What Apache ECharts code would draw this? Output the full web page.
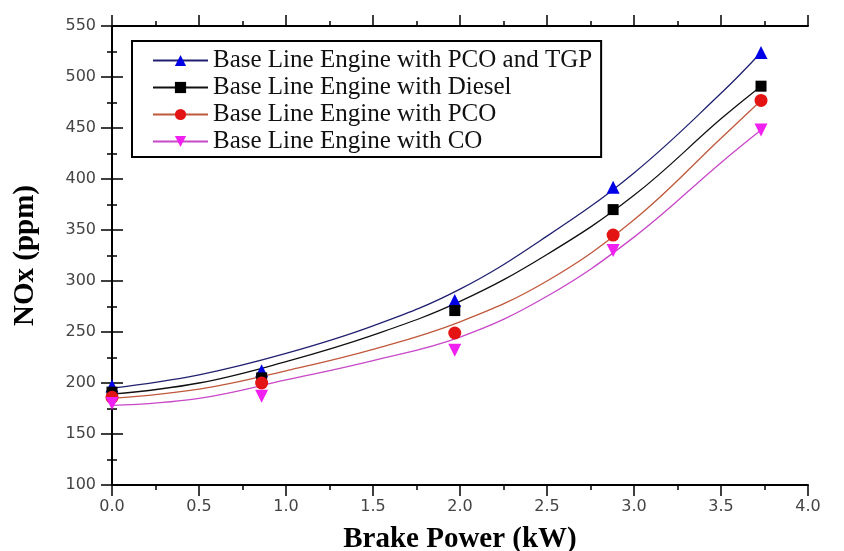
<!DOCTYPE html>
<html>
<head>
<meta charset="utf-8">
<script src="https://cdn.jsdelivr.net/npm/echarts@6/dist/echarts.min.js"></script>
<style>
  html, body { margin: 0; padding: 0; background: #fff; }
  #main { width: 844px; height: 551px; }
</style>
</head>
<body>
<div id="main"></div>
<script>
// measured points
var names = [
    'Base Line Engine with PCO and TGP',
    'Base Line Engine with Diesel',
    'Base Line Engine with PCO',
    'Base Line Engine with CO'
];
var powerPts = [0, 0.86, 1.97, 2.88, 3.73];
var noxTGP = [197, 212, 281, 392, 524];
var noxDiesel = [191, 205, 271, 370, 491];
var noxPCO = [186, 200, 249, 345, 477];
var noxCO = [180, 187, 232, 330, 448];

// fitted curves
var powerFit = [0, 0.5, 1.0, 1.5, 2.0, 2.5, 3.0, 3.5, 3.73];
var fitTGP = [195, 208, 229, 256, 292, 344, 406, 484, 524];
var fitDiesel = [189, 200, 221, 247, 280, 326, 384, 459, 491];
var fitPCO = [185, 194, 212, 233, 260, 300, 360, 440, 477];
var fitCO = [178, 185, 203, 222, 245, 285, 343, 416, 448];

var markColors = ['#0000e6', '#000000', '#e41414', '#f020f0'];
var lineColors = ['#202070', '#111111', '#c0583c', '#c848c8'];
var symbols = ['triangle', 'rect', 'circle', 'triangle'];
var rotates = [0, 0, 0, 180];

function pairs(xs, ys) {
    return xs.map(function (x, i) { return [x, ys[i]]; });
}

var pts = [noxTGP, noxDiesel, noxPCO, noxCO];
var fits = [fitTGP, fitDiesel, fitPCO, fitCO];

var series = [];
for (var i = 0; i < 4; i++) {
    series.push({
        name: names[i],
        type: 'line',
        data: pairs(powerFit, fits[i]),
        smooth: 0.4,
        showSymbol: false,
        symbol: symbols[i],
        symbolRotate: rotates[i],
        symbolSize: 13,
        lineStyle: { color: lineColors[i], width: 1.3 },
        itemStyle: { color: markColors[i] },
        silent: true,
        z: 2
    });
}
for (var j = 0; j < 4; j++) {
    series.push({
        name: names[j],
        type: 'scatter',
        data: pairs(powerPts, pts[j]),
        symbol: symbols[j],
        symbolRotate: rotates[j],
        symbolSize: j === 1 ? 11 : 13,
        itemStyle: { color: markColors[j], opacity: 1 },
        z: 3
    });
}

var axisCommon = {
    axisLine: { show: true, lineStyle: { color: '#000', width: 2 } },
    axisTick: { show: true, inside: false, length: 11, lineStyle: { color: '#000', width: 1.5 } },
    minorTick: { show: true, splitNumber: 2, length: 5, lineStyle: { color: '#000', width: 1.5 } },
    splitLine: { show: false }
};

var tickFont = { color: '#444', fontSize: 16, fontFamily: 'DejaVu Sans' };
var nameFont = { color: '#000', fontSize: 29, fontWeight: 'bold', fontFamily: 'Liberation Serif' };

var option = {
    backgroundColor: '#fff',
    animation: false,
    grid: { left: 112, right: 36, top: 26, bottom: 66, containLabel: false, outerBoundsMode: 'none' },
    legend: {
        data: names,
        orient: 'vertical',
        left: 132,
        top: 41,
        padding: [7, 9, 3, 20],
        itemGap: 2,
        itemWidth: 55,
        itemHeight: 14,
        itemTextGap: 6,
        borderColor: '#000',
        borderWidth: 2,
        textStyle: { color: '#111', fontSize: 25, fontFamily: 'Liberation Serif' }
    },
    xAxis: [
        Object.assign({}, axisCommon, {
            type: 'value', min: 0, max: 4, interval: 0.5,
            name: 'Brake Power (kW)', nameLocation: 'middle', nameGap: 40,
            nameTextStyle: nameFont,
            axisLabel: Object.assign({ margin: 14, formatter: function (v) { return v.toFixed(1); } }, tickFont)
        }),
        Object.assign({}, axisCommon, {
            type: 'value', position: 'top', min: 0, max: 4, interval: 0.5,
            axisLabel: { show: false }
        })
    ],
    yAxis: [
        Object.assign({}, axisCommon, {
            type: 'value', min: 100, max: 550, interval: 50,
            name: 'NOx (ppm)', nameLocation: 'middle', nameGap: 72,
            nameTextStyle: nameFont,
            axisLabel: Object.assign({ margin: 16 }, tickFont)
        }),
        Object.assign({}, axisCommon, {
            type: 'value', position: 'right', min: 100, max: 550, interval: 50,
            axisLabel: { show: false }
        })
    ],
    series: series
};

var myChart = echarts.init(document.getElementById('main'));
myChart.setOption(option);
window.onresize = myChart.resize;
</script>
</body>
</html>
